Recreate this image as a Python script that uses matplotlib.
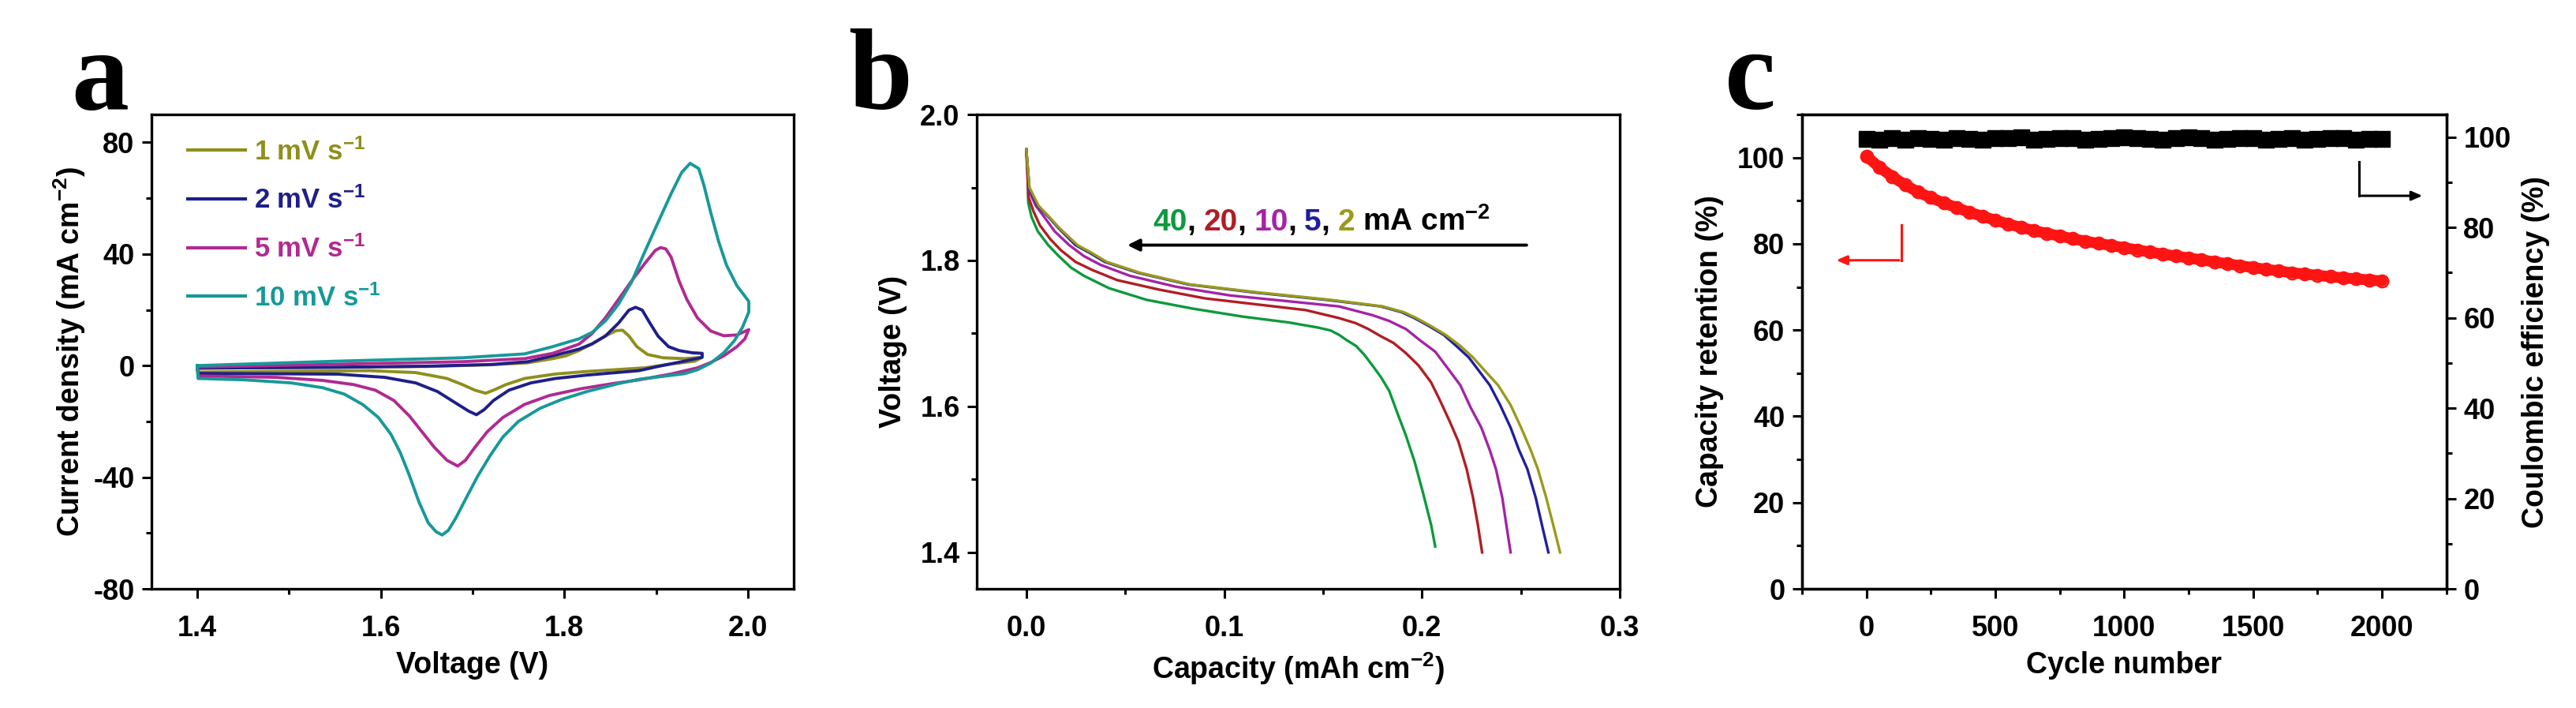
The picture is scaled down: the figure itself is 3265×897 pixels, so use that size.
import numpy as np
import matplotlib.pyplot as plt
from matplotlib.ticker import MultipleLocator

plt.rcParams['font.family'] = ['Liberation Sans', 'DejaVu Sans']
plt.rcParams['font.weight'] = 'bold'
plt.rcParams['axes.labelweight'] = 'bold'
plt.rcParams['axes.unicode_minus'] = False
plt.rcParams['mathtext.fontset'] = 'custom'
plt.rcParams['mathtext.rm'] = 'Liberation Sans:bold'
plt.rcParams['mathtext.it'] = 'Liberation Sans:bold'
plt.rcParams['mathtext.bf'] = 'Liberation Sans:bold'
plt.rcParams['mathtext.sf'] = 'Liberation Sans:bold'

# ---- (a) CV loops: voltage (V) and current density (mA cm-2)
cv_labels = ['1 mV s$^{-1}$', '2 mV s$^{-1}$', '5 mV s$^{-1}$', '10 mV s$^{-1}$']
cv_colors = ['#8f8f1c', '#1f1f8a', '#b02a92', '#17999a']

v_1 = [1.40, 1.55, 1.65, 1.72, 1.76, 1.7873, 1.8016, 1.816, 1.8303, 1.8447, 1.8562, 1.8634, 1.8705,
       1.8791, 1.8906, 1.9078, 1.9308, 1.9451, 1.950, 1.9423, 1.9164, 1.8877, 1.8245, 1.7906, 1.7567,
       1.7364, 1.7228, 1.7143, 1.7025, 1.6889, 1.6720, 1.6381, 1.5872, 1.4008, 1.40]
i_1 = [-0.9, -0.6, -0.3, 0.3, 1.0, 2.5, 3.5, 5.4, 7.8, 10.6, 12.5, 12.7, 10.6,
       6.8, 4.0, 2.8, 2.5, 2.8, 2.9, 1.6, 0.6, -0.8, -2.1, -3.0, -4.6,
       -6.8, -8.8, -9.9, -8.8, -6.8, -4.6, -2.5, -1.8, -2.3, -0.9]

v_2 = [1.40, 1.55, 1.65, 1.72, 1.76, 1.7873, 1.816, 1.8303, 1.8447, 1.859, 1.8705, 1.8777, 1.8849,
       1.8934, 1.9021, 1.9136, 1.925, 1.9394, 1.9503, 1.9503, 1.9308, 1.9021, 1.8814, 1.8245, 1.7906,
       1.7635, 1.7397, 1.7228, 1.7126, 1.7042, 1.6957, 1.6821, 1.6618, 1.6381, 1.6042, 1.5533,
       1.4008, 1.40]
i_2 = [-0.9, -0.6, -0.2, 0.4, 1.4, 3.5, 5.9, 7.8, 10.6, 15.2, 19.9, 20.9, 19.9,
       15.2, 10.6, 6.8, 5.4, 4.6, 4.4, 3.0, 1.6, -0.3, -1.8, -3.4, -4.6,
       -6.2, -8.8, -12.5, -15.8, -17.6, -16.3, -13.5, -9.3, -6.2, -4.2, -3.05,
       -2.8, -0.9]

v_5 = [1.40, 1.5533, 1.6889, 1.7567, 1.7873, 1.816, 1.8303, 1.8447, 1.859, 1.8734, 1.8877, 1.8992,
       1.905, 1.9107, 1.9164, 1.925, 1.9336, 1.9451, 1.9595, 1.9738, 1.9882, 2.0011, 1.9968, 1.9882,
       1.9738, 1.9595, 1.9451, 1.9164, 1.8814, 1.8516, 1.8177, 1.7838, 1.7567, 1.7330, 1.7160,
       1.7025, 1.6923, 1.6838, 1.6720, 1.6584, 1.6448, 1.6313, 1.6143, 1.5940, 1.5703, 1.5364,
       1.4856, 1.4008, 1.40]
i_5 = [-0.5, 0.5, 1.4, 2.5, 4.4, 7.7, 11.5, 17.1, 23.7, 30.4, 36.6, 41.3,
       42.3, 41.8, 38.9, 30.4, 23.7, 17.1, 12.4, 10.7, 11.0, 12.9, 9.6, 6.8,
       3.5, 1.1, -0.8, -3.0, -5.1, -6.5, -8.3, -10.7, -13.9, -18.6, -23.7,
       -29.3, -33.9, -36.0, -33.9, -29.3, -23.7, -18.1, -12.5, -8.8, -6.8, -5.3,
       -4.2, -3.7, -0.5]

v_10 = [1.40, 1.5533, 1.6889, 1.7567, 1.7873, 1.8016, 1.816, 1.8303, 1.8447, 1.859, 1.8734, 1.8877,
        1.9021, 1.9164, 1.9279, 1.9371, 1.9466, 1.9523, 1.9595, 1.9681, 1.9767, 1.9882, 1.9968,
        2.0011, 2.0011, 1.9940, 1.9853, 1.9738, 1.9595, 1.9451, 1.9308, 1.8814, 1.8583, 1.8245,
        1.7973, 1.7736, 1.7499, 1.7330, 1.7194, 1.7058, 1.6923, 1.6821, 1.6737, 1.6669, 1.6601,
        1.6516, 1.6415, 1.6313, 1.6211, 1.6110, 1.5974, 1.5805, 1.5601, 1.5364, 1.5025, 1.4517,
        1.4008, 1.40]
i_10 = [0.0, 1.6, 2.8, 4.2, 6.8, 8.2, 9.6, 11.9, 16.0, 22.0, 30.0, 40.8,
        51.3, 61.6, 69.2, 72.5, 70.6, 64.5, 55.0, 44.6, 36.1, 28.6, 24.9,
        23.0, 19.2, 13.6, 8.9, 4.6, 0.9, -1.5, -2.9, -4.9, -6.5, -9.3,
        -12.1, -15.3, -20.0, -25.6, -32.1, -39.5, -47.9, -54.4, -59.0, -60.7, -59.5,
        -56.3, -48.8, -39.5, -31.1, -24.6, -18.6, -14.0, -10.2, -7.9, -6.2, -5.1,
        -4.6, 0.0]

# ---- (b) discharge curves at 40, 20, 10, 5, 2 mA cm-2
dis_labels = ['40', '20', '10', '5', '2']
dis_colors = ['#0c9a3c', '#b01e24', '#a423a6', '#1f1fa0', '#9a9a1c']
cap_40 = [0.0, 0.0007, 0.001, 0.0026, 0.0058, 0.0111, 0.0164, 0.0227, 0.0291, 0.0418, 0.0608, 0.0841,
          0.1095, 0.1327, 0.1475, 0.1539, 0.1581, 0.1624, 0.1666, 0.1708, 0.1750, 0.1793, 0.1835,
          0.1877, 0.1919, 0.1962, 0.2004, 0.2047, 0.2067]
vol_40 = [1.952, 1.917, 1.879, 1.860, 1.840, 1.821, 1.806, 1.790, 1.779, 1.762, 1.746, 1.734,
          1.723, 1.715, 1.708, 1.704, 1.698, 1.690, 1.683, 1.671, 1.656, 1.640, 1.621,
          1.590, 1.560, 1.525, 1.483, 1.437, 1.408]
cap_20 = [0.0, 0.0011, 0.0037, 0.0069, 0.0122, 0.0175, 0.0249, 0.0333, 0.046, 0.0672, 0.0904, 0.1158,
          0.1412, 0.1581, 0.1666, 0.1729, 0.1793, 0.1856, 0.1919, 0.1983, 0.2046, 0.2088, 0.2141,
          0.2184, 0.2226, 0.2258, 0.2283, 0.2304]
vol_20 = [1.952, 1.887, 1.867, 1.848, 1.829, 1.814, 1.798, 1.787, 1.773, 1.760, 1.748, 1.740,
          1.732, 1.721, 1.714, 1.706, 1.696, 1.687, 1.673, 1.656, 1.633, 1.610, 1.579,
          1.552, 1.514, 1.475, 1.437, 1.400]
cap_10 = [0.0, 0.0016, 0.0048, 0.009, 0.0143, 0.0217, 0.0291, 0.0375, 0.0523, 0.0756, 0.1031, 0.1327,
          0.1581, 0.1750, 0.1835, 0.1919, 0.1993, 0.2067, 0.2131, 0.2194, 0.2247, 0.2300, 0.2343,
          0.2374, 0.2406, 0.2427, 0.2448]
vol_10 = [1.952, 1.894, 1.875, 1.860, 1.840, 1.821, 1.806, 1.794, 1.779, 1.764, 1.752, 1.744,
          1.737, 1.725, 1.717, 1.706, 1.690, 1.675, 1.652, 1.629, 1.598, 1.571, 1.540,
          1.514, 1.475, 1.437, 1.400]
cap_5 = [0.0, 0.0016, 0.0058, 0.0111, 0.0164, 0.0249, 0.0323, 0.0397, 0.0566, 0.082, 0.1158, 0.1518,
         0.1793, 0.1898, 0.1962, 0.2036, 0.211, 0.2173, 0.2237, 0.2290, 0.2343, 0.2395, 0.2448,
         0.2491, 0.2533, 0.2575, 0.2607, 0.2639]
vol_5 = [1.952, 1.898, 1.875, 1.860, 1.844, 1.821, 1.810, 1.798, 1.783, 1.767, 1.756, 1.746,
         1.737, 1.729, 1.721, 1.710, 1.698, 1.683, 1.667, 1.648, 1.629, 1.602, 1.571,
         1.540, 1.514, 1.475, 1.437, 1.400]
cap_2 = [0.0, 0.0016, 0.0062, 0.0115, 0.0169, 0.0259, 0.0333, 0.0407, 0.0576, 0.083, 0.1179, 0.1539,
         0.1803, 0.1909, 0.1972, 0.2046, 0.212, 0.2194, 0.2258, 0.2321, 0.2385, 0.2448, 0.2501,
         0.255, 0.2586, 0.2628, 0.2664, 0.2698]
vol_2 = [1.952, 1.900, 1.875, 1.860, 1.844, 1.821, 1.810, 1.798, 1.783, 1.767, 1.756, 1.746,
         1.737, 1.729, 1.721, 1.710, 1.698, 1.683, 1.667, 1.648, 1.629, 1.602, 1.571,
         1.540, 1.514, 1.475, 1.437, 1.400]

# ---- (c) cycling: capacity retention (%) and coulombic efficiency (%) every 50 cycles
cycles = list(range(0, 2001, 50))
retention = [100.3, 97.8, 95.6, 93.7, 92.0, 90.7, 89.5, 88.4, 87.3, 86.4, 85.5, 84.6, 83.8, 83.1,
             82.4, 81.8, 81.2, 80.6, 80.1, 79.6, 79.1, 78.6, 78.1, 77.6, 77.2, 76.7, 76.3, 75.8,
             75.4, 74.9, 74.5, 74.1, 73.7, 73.3, 73.0, 72.7, 72.4, 72.1, 71.9, 71.6, 71.4]
efficiency = [99.6, 99.4, 99.7, 99.5, 99.8, 99.6, 99.5, 99.7, 99.6, 99.4, 99.8, 99.7, 99.9, 99.5,
              99.6, 99.8, 99.7, 99.4, 99.6, 99.8, 99.9, 99.7, 99.6, 99.5, 99.8, 100.0, 99.7, 99.5,
              99.6, 99.7, 99.8, 99.5, 99.6, 99.7, 99.4, 99.6, 99.8, 99.7, 99.5, 99.6, 99.6]

fig = plt.figure(figsize=(32.65, 8.97), dpi=100)
ax_a = fig.add_axes([0.0588, 0.1683, 0.2493, 0.670])
ax_b = fig.add_axes([0.3792, 0.1683, 0.2496, 0.670])
ax_c = fig.add_axes([0.6995, 0.1683, 0.2502, 0.670])

TICK = 26
LABEL = 27


def style(ax):
    for s in ax.spines.values():
        s.set_linewidth(2.4)
    ax.tick_params(which='major', direction='out', length=8.5, width=2.2, labelsize=TICK)
    ax.tick_params(which='minor', direction='out', length=5, width=2.2)
    ax.tick_params(axis='x', which='major', pad=15)
    ax.tick_params(axis='y', which='major', pad=7)


# panel a
for v, i, lab, col in zip([v_1, v_2, v_5, v_10], [i_1, i_2, i_5, i_10], cv_labels, cv_colors):
    ax_a.plot(v, i, color=col, lw=2.8, label=lab, solid_joinstyle='round')
ax_a.set_xlim(1.35, 2.05)
ax_a.set_ylim(-80, 90)
ax_a.xaxis.set_minor_locator(MultipleLocator(0.1))
ax_a.yaxis.set_major_locator(MultipleLocator(40))
ax_a.yaxis.set_minor_locator(MultipleLocator(20))
ax_a.set_xticks([1.4, 1.6, 1.8, 2.0])
ax_a.set_xticklabels(['1.4', '1.6', '1.8', '2.0'])
style(ax_a)
ax_a.set_xlabel('Voltage (V)', fontsize=LABEL, labelpad=8)
ax_a.set_ylabel('Current density (mA cm$^{-2}$)', fontsize=LABEL, labelpad=5)
leg = ax_a.legend(loc='upper left', bbox_to_anchor=(0.057, 0.950), frameon=False, fontsize=25,
                  handlelength=2.1, handletextpad=0.3, labelspacing=0.78, borderaxespad=0, borderpad=0)
for txt, col in zip(leg.get_texts(), cv_colors):
    txt.set_color(col)
for ln in leg.get_lines():
    ln.set_linewidth(3)

# panel b
for c, v, col in zip([cap_40, cap_20, cap_10, cap_5, cap_2], [vol_40, vol_20, vol_10, vol_5, vol_2],
                     dis_colors):
    ax_b.plot(c, v, color=col, lw=2.4, solid_joinstyle='round')
ax_b.set_xlim(-0.025, 0.3)
ax_b.set_ylim(1.35, 2.0)
ax_b.xaxis.set_minor_locator(MultipleLocator(0.05))
ax_b.yaxis.set_minor_locator(MultipleLocator(0.1))
ax_b.set_yticks([1.4, 1.6, 1.8, 2.0])
ax_b.set_yticklabels(['1.4', '1.6', '1.8', '2.0'])
ax_b.set_xticks([0.0, 0.1, 0.2, 0.3])
ax_b.set_xticklabels(['0.0', '0.1', '0.2', '0.3'])
style(ax_b)
ax_b.set_xlabel('Capacity (mAh cm$^{-2}$)', fontsize=LABEL, labelpad=8)
ax_b.set_ylabel('Voltage (V)', fontsize=LABEL, labelpad=12)
ax_b.annotate('', xy=(0.050, 1.821), xytext=(0.254, 1.821),
              arrowprops=dict(arrowstyle='-|>,head_length=0.9,head_width=0.45', color='black', lw=2.8))
t = ax_b.text(0.064, 1.832, dis_labels[0], color=dis_colors[0], fontsize=28, va='bottom')
for lab, col in zip(dis_labels[1:], dis_colors[1:]):
    t = ax_b.annotate(',', xy=(1, 0), xycoords=t, color='black', fontsize=28, va='bottom')
    t = ax_b.annotate(lab, xy=(1, 0), xycoords=t, xytext=(7, 0), textcoords='offset points',
                      color=col, fontsize=28, va='bottom')
ax_b.annotate('mA cm$^{-2}$', xy=(1, 0), xycoords=t, xytext=(7, 0), textcoords='offset points',
              color='black', fontsize=28, va='bottom')

# panel c
ax_c.plot(cycles, retention, color='#ff1414', lw=10, marker='o', ms=11, mfc='none',
          mec='#ff1414', mew=1.8, solid_capstyle='round')
ax_c.set_xlim(-250, 2250)
ax_c.set_ylim(0, 110)
ax_c.xaxis.set_major_locator(MultipleLocator(500))
ax_c.xaxis.set_minor_locator(MultipleLocator(250))
ax_c.yaxis.set_major_locator(MultipleLocator(20))
ax_c.yaxis.set_minor_locator(MultipleLocator(10))
style(ax_c)
ax_c.set_xlabel('Cycle number', fontsize=LABEL, labelpad=8)
ax_c.set_ylabel('Capacity retention (%)', fontsize=LABEL, labelpad=12)

ax_c2 = ax_c.twinx()
ax_c2.plot(cycles, efficiency, color='black', lw=0, marker='s', ms=15)
ax_c2.set_ylim(0, 105)
ax_c2.yaxis.set_major_locator(MultipleLocator(20))
ax_c2.yaxis.set_minor_locator(MultipleLocator(10))
style(ax_c2)
ax_c2.set_ylabel('Coulombic efficiency (%)', fontsize=LABEL, labelpad=10)

# elbow arrows pointing to the axes
ax_c.plot([135, 135], [84.4, 76.2], color='#ff1414', lw=2.2)
ax_c.annotate('', xy=(-125, 76.2), xytext=(136, 76.2),
              arrowprops=dict(arrowstyle='-|>,head_length=0.8,head_width=0.35', color='#ff1414', lw=2.2))
ax_c2.plot([1912, 1912], [94.5, 87.0], color='black', lw=2.2)
ax_c2.annotate('', xy=(2165, 87.0), xytext=(1911, 87.0),
               arrowprops=dict(arrowstyle='-|>,head_length=0.8,head_width=0.35', color='black', lw=2.2))

# panel letters
for x, letter in zip([0.0500, 0.3540, 0.6893], ['a', 'b', 'c']):
    fig.text(x, 0.846, letter, fontsize=105, fontweight='bold', family='Liberation Serif',
             ha='right', va='baseline')

fig.savefig('out.png', dpi=100, facecolor='white')
